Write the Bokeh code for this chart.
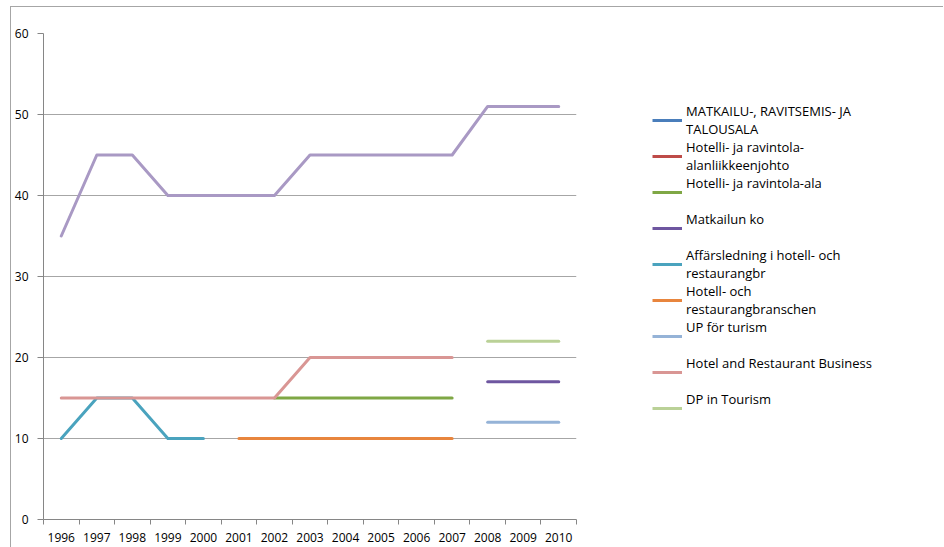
import numpy as np
from bokeh.plotting import figure
from bokeh.layouts import row
from bokeh.models import FixedTicker, Legend, LegendItem
from bokeh.embed import file_html
from bokeh.resources import INLINE

nan = np.nan
years = list(range(1996, 2011))
year_labels = [str(y) for y in years]

# series values (nan = no value)
matkailu = [nan] * 15
hotelli_johto = [nan] * 15
hotelli_ala = [nan, nan, nan, nan, nan, nan, 15, 15, 15, 15, 15, 15, nan, nan, nan]
matkailun_ko = [nan, nan, nan, nan, nan, nan, nan, nan, nan, nan, nan, nan, 17, 17, 17]
affarsledning = [10, 15, 15, 10, 10, nan, nan, nan, nan, nan, nan, nan, nan, nan, nan]
hotell_bransch = [nan, nan, nan, nan, nan, 10, 10, 10, 10, 10, 10, 10, nan, nan, nan]
up_turism = [nan, nan, nan, nan, nan, nan, nan, nan, nan, nan, nan, nan, 12, 12, 12]
hotel_business = [15, 15, 15, 15, 15, 15, 15, 20, 20, 20, 20, 20, nan, nan, nan]
dp_tourism = [nan, nan, nan, nan, nan, nan, nan, nan, nan, nan, nan, nan, 22, 22, 22]
unnamed = [35, 45, 45, 40, 40, 40, 40, 45, 45, 45, 45, 45, 51, 51, 51]

series = [
    ("MATKAILU-, RAVITSEMIS- JA\nTALOUSALA", matkailu, "#4A7EBB"),
    ("Hotelli- ja ravintola-\nalanliikkeenjohto", hotelli_johto, "#BE4B48"),
    ("Hotelli- ja ravintola-ala\n ", hotelli_ala, "#7FA745"),
    ("Matkailun ko\n ", matkailun_ko, "#6E56A0"),
    ("Affärsledning i hotell- och\nrestaurangbr", affarsledning, "#4AA3BE"),
    ("Hotell- och\nrestaurangbranschen", hotell_bransch, "#E8853D"),
    ("UP för turism\n ", up_turism, "#95B3D7"),
    ("Hotel and Restaurant Business\n ", hotel_business, "#D99694"),
    ("DP in Tourism\n ", dp_tourism, "#BAD197"),
]
unnamed_color = "#A999C4"

FONT = "Open Sans"

p = figure(width=589, height=540, output_backend="svg", toolbar_location=None,
           x_range=(years[0] - 0.5, years[-1] + 0.5), y_range=(0, 60),
           min_border_left=31, min_border_right=24, min_border_top=26,
           min_border_bottom=28)
p.outline_line_color = None
p.background_fill_color = "white"
p.border_fill_color = "white"

# axes
p.xaxis.ticker = FixedTicker(ticks=years, minor_ticks=[y - 0.5 for y in years] + [years[-1] + 0.5])
p.xaxis.major_label_overrides = {y: l for y, l in zip(years, year_labels)}
p.xaxis.major_tick_out = 0
p.xaxis.major_tick_in = 0
p.xaxis.minor_tick_out = 5
p.xaxis.minor_tick_in = 0
p.xaxis.minor_tick_line_color = "#868686"
p.xaxis.major_label_standoff = 8
p.yaxis.ticker = FixedTicker(ticks=[0, 10, 20, 30, 40, 50, 60])
p.yaxis.major_tick_out = 6
p.yaxis.major_tick_in = 0
p.yaxis.minor_tick_line_color = None
p.yaxis.major_label_standoff = 9
for ax in (p.xaxis, p.yaxis):
    ax.axis_line_color = "#868686"
    ax.major_tick_line_color = "#868686"
    ax.major_label_text_font = FONT
    ax.major_label_text_font_size = "12px"
    ax.major_label_text_color = "#000000"
p.xgrid.grid_line_color = None
p.ygrid.grid_line_color = "#a6a6a6"
p.ygrid.ticker = FixedTicker(ticks=[10, 20, 30, 40, 50, 60])

for name, vals, col in series:
    p.line(years, vals, line_color=col, line_width=3, line_cap="round", line_join="round")
p.line(years, unnamed, line_color=unnamed_color, line_width=3, line_cap="round", line_join="round")

# legend panel (separate figure so the legend is not clipped by the plot frame)
lf = figure(width=343, height=540, output_backend="svg", toolbar_location=None,
            x_range=(0, 1), y_range=(0, 1), x_axis_location=None, y_axis_location=None,
            min_border=0, min_border_left=0, min_border_right=0,
            min_border_top=0, min_border_bottom=0)
lf.outline_line_color = None
lf.xgrid.grid_line_color = None
lf.ygrid.grid_line_color = None
lf.border_fill_color = "white"

items = []
for name, vals, col in series:
    r = lf.line([nan], [nan], line_color=col, line_width=3)
    items.append(LegendItem(label=name, renderers=[r]))

legend = Legend(items=items, location=(52, 93), padding=0, margin=0,
                border_line_color=None, background_fill_alpha=0,
                label_text_font=FONT, label_text_font_size="13px",
                label_text_color="#000000",
                glyph_width=30, glyph_height=14, label_standoff=4,
                label_height=34, spacing=0, label_text_line_height=1.28)
lf.add_layout(legend, "center")

layout = row(p, lf, spacing=0)
layout.styles = {"border-top": "1px solid #a6a6a6", "border-left": "1px solid #a6a6a6",
                 "margin-left": "10px", "margin-top": "6px"}

open("out.html", "w").write(file_html(layout, INLINE))
